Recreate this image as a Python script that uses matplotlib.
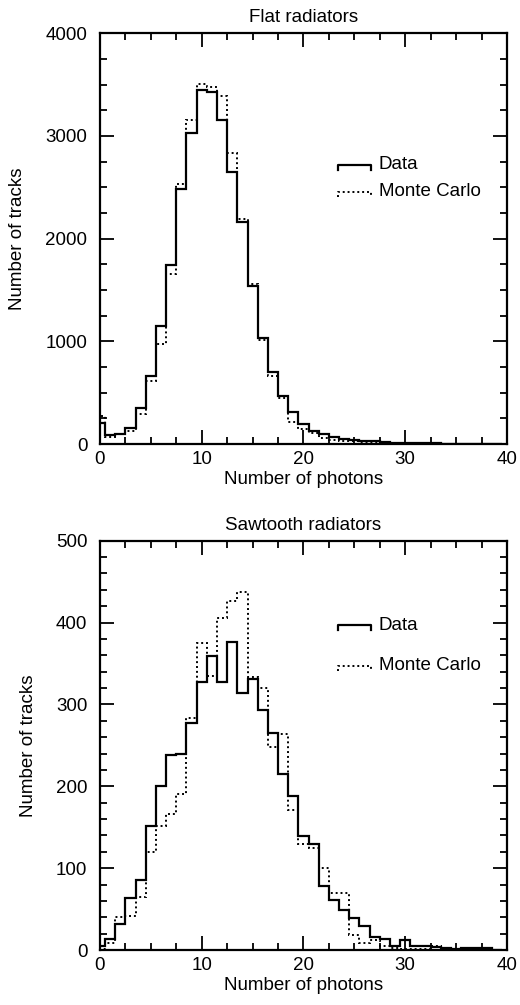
import matplotlib
matplotlib.use("Agg")
import matplotlib.pyplot as plt
import numpy as np
from matplotlib.ticker import MultipleLocator

plt.rcParams['font.family'] = ['Liberation Sans', 'DejaVu Sans']
plt.rcParams['font.size'] = 13.5

# bins: one photon wide, centred on integers 0..39
photons = np.arange(40)

# Flat radiators
flat_data = [200, 88, 100, 155, 350, 665, 1145, 1748, 2485, 3025,
             3452, 3428, 3153, 2650, 2163, 1535, 1030, 700, 470, 314,
             195, 130, 94, 65, 49, 39, 30, 25, 18, 14,
             10, 8, 6, 5, 4, 3, 2, 2, 1, 1]
flat_mc = [270, 65, 100, 130, 295, 615, 975, 1658, 2535, 3153,
           3510, 3477, 3389, 2830, 2190, 1555, 1012, 662, 445, 217,
           146, 104, 55, 40, 33, 28, 22, 17, 12, 8,
           6, 4, 3, 2, 2, 1, 1, 1, 0, 0]

# Sawtooth radiators
saw_data = [5, 14, 32, 64, 86, 152, 200, 238, 239, 277,
            328, 359, 327, 376, 314, 331, 293, 265, 215, 188,
            139, 130, 78, 61, 49, 39, 29, 16, 14, 5,
            12, 5, 5, 4, 3, 1, 2, 2, 2, 0]
saw_mc = [1, 9, 40, 41, 65, 120, 151, 166, 191, 283,
          375, 335, 405, 426, 437, 334, 320, 248, 264, 171,
          130, 125, 100, 70, 70, 18, 8, 12, 5, 3,
          1, 1, 1, 5, 2, 0, 0, 0, 0, 0]

titles = ['Flat radiators', 'Sawtooth radiators']
labels = ['Data', 'Monte Carlo']


def style_axes(ax, ymax, ymajor, yminor):
    ax.set_xlim(0, 40)
    ax.set_ylim(0, ymax)
    ax.xaxis.set_major_locator(MultipleLocator(10))
    ax.xaxis.set_minor_locator(MultipleLocator(2.5))
    ax.yaxis.set_major_locator(MultipleLocator(ymajor))
    ax.yaxis.set_minor_locator(MultipleLocator(yminor))
    ax.tick_params(which='both', direction='in', top=True, right=True, width=1.3)
    ax.tick_params(which='major', length=10)
    ax.tick_params(which='minor', length=5)
    ax.tick_params(axis='x', pad=5)
    ax.tick_params(axis='y', pad=9)
    for s in ax.spines.values():
        s.set_linewidth(1.6)
    ax.set_xlabel('Number of photons', labelpad=2)
    ax.set_ylabel('Number of tracks', labelpad=14)


def fake_legend(ax, y_data, y_mc):
    # step-like handles, like the original plot
    x0, x1, dy = 0.585, 0.665, 0.012
    ax.plot([x0, x0, x1, x1], [y_data - dy, y_data, y_data, y_data - dy],
            transform=ax.transAxes, color='black', lw=1.6, clip_on=False)
    ax.plot([x0, x0, x1, x1], [y_mc - dy, y_mc, y_mc, y_mc - dy],
            transform=ax.transAxes, color='black', lw=1.4,
            linestyle=(0, (1, 1.5)), clip_on=False)
    ax.text(0.685, y_data, labels[0], transform=ax.transAxes, va='center')
    ax.text(0.685, y_mc, labels[1], transform=ax.transAxes, va='center')


fig = plt.figure(figsize=(5.2, 10.05), dpi=100)
ax1 = fig.add_axes([0.1923, 0.5582, 0.7827, 0.4087])
ax2 = fig.add_axes([0.1923, 0.0547, 0.7827, 0.4073])

edges = np.append(photons - 0.5, photons[-1] + 0.5)

for ax, d, mc, t in [(ax1, flat_data, flat_mc, titles[0]),
                     (ax2, saw_data, saw_mc, titles[1])]:
    ax.stairs(d, edges, color='black', lw=1.6)
    ax.stairs(mc, edges, color='black', lw=1.4, linestyle=(0, (1, 1.5)))
    ax.set_title(t, pad=8, fontsize=13.5)

style_axes(ax1, 4000, 1000, 250)
style_axes(ax2, 500, 100, 20)

fake_legend(ax1, 0.680, 0.614)
fake_legend(ax2, 0.793, 0.694)

fig.savefig('out.png', dpi=100)
